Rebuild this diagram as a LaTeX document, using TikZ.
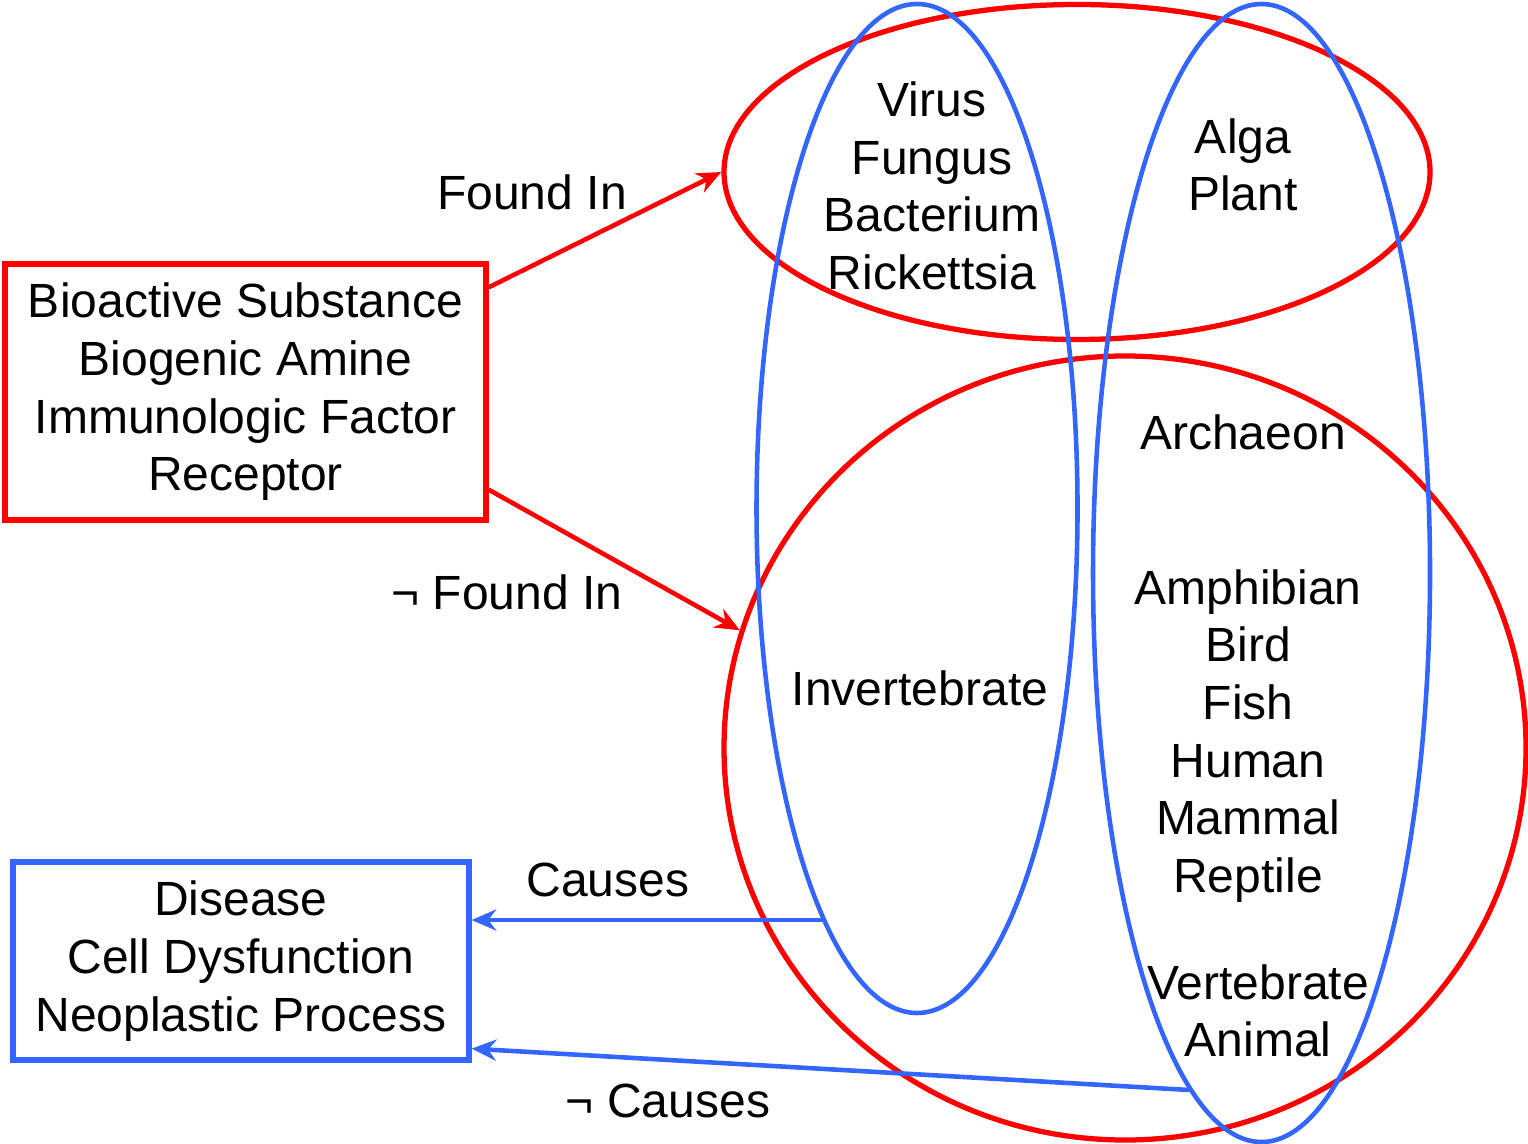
\documentclass[tikz,border=0pt]{standalone}
\usepackage{fontspec}
\setmainfont{Liberation Sans}
\usepackage{xcolor}
\usepackage{tikz}
\usetikzlibrary{arrows.meta, shapes.geometric, calc}
\definecolor{sred}{HTML}{FF0000}
\definecolor{sblue}{HTML}{3366FF}

\begin{document}
\begin{tikzpicture}[x=1cm, y=1cm,
  lbl/.style={font=\fontsize{13.66}{16.4}\selectfont, align=center, inner sep=0pt},
  grp/.style={draw, shape=ellipse, inner sep=0pt, line width=1.3pt},
  box/.style={draw, line width=1.5pt, inner sep=0pt, font=\fontsize{13.66}{16.4}\selectfont, align=center},
  rel/.style={line width=1.3pt, -{Stealth[length=7pt, width=6pt]}}]
\useasboundingbox (0,0) rectangle (15.28,-11.44);
\node[box, sred, text=black, minimum width=4.81cm, minimum height=2.56cm]
  (subst) at (2.455,-3.92) {Bioactive Substance\\Biogenic Amine\\Immunologic Factor\\Receptor};
\node[box, sblue, text=black, minimum width=4.56cm, minimum height=1.98cm]
  (effect) at (2.41,-9.61) {Disease\\Cell Dysfunction\\Neoplastic Process};
\node[grp, sred, line width=1.5pt, minimum width=7.06cm, minimum height=3.35cm] (micro) at (10.77,-1.72) {};
\node[grp, sred, line width=1.5pt, minimum width=8.02cm, minimum height=7.84cm] (animal) at (11.25,-7.48) {};
\node[grp, sblue, minimum width=3.21cm, minimum height=10.09cm] (lower) at (9.17,-5.085) {};
\node[grp, sblue, minimum width=3.37cm, minimum height=11.38cm] (higher) at (12.615,-5.73) {};
\node[lbl] (microtxt) at (9.32,-1.86) {Virus\\Fungus\\Bacterium\\Rickettsia};
\node[lbl] (planttxt) at (12.43,-1.65) {Alga\\Plant};
\node[lbl] (archtxt) at (12.43,-4.32) {Archaeon};
\node[lbl] (vertxt) at (12.48,-7.36) {Amphibian\\Bird\\Fish\\Human\\Mammal\\Reptile};
\node[lbl] (invtxt) at (9.20,-6.88) {Invertebrate};
\node[lbl] (animtxt) at (12.58,-10.11) {Vertebrate\\Animal};
\draw[rel, sred] ([yshift=-0.26cm]subst.north east) -- (micro.west);
\draw[rel, sred] ([yshift=0.33cm]subst.south east) -- (animal.163);
\draw[rel, sblue] (lower.257.4) -- (lower.257.4 -| effect.east);
\draw[rel, sblue] (higher.262.2) -- ([yshift=0.14cm]effect.south east);
\node[lbl] (foundin) at (5.32,-1.92) {Found In};
\node[lbl] (notfoundin) at (5.07,-5.92) {¬ Found In};
\node[lbl] (causes) at (6.08,-8.80) {Causes};
\node[lbl] (notcauses) at (6.68,-11.01) {¬ Causes};
\end{tikzpicture}
\end{document}
